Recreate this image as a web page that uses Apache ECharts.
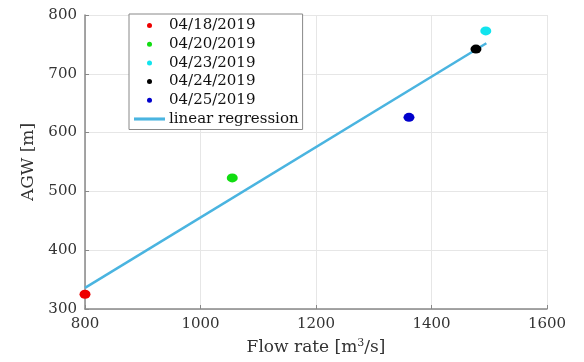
<!DOCTYPE html>
<html><head><meta charset="utf-8">
<script src="https://cdn.jsdelivr.net/npm/echarts@6/dist/echarts.min.js"></script>
<style>html,body{margin:0;padding:0;background:#fff}#c{width:584px;height:362px}</style>
</head><body><div id="c"></div>
<script>
const dates = ['04/18/2019','04/20/2019','04/23/2019','04/24/2019','04/25/2019'];
const flowRate = [800, 1055, 1494, 1477, 1361];
const agw = [325, 523, 773, 742, 626];
const dotColors = ['#ee0000','#11dd11','#11e4ee','#000000','#0000cc'];
const regressionX = [800, 1495];
const regressionY = [336, 752];
const xTicks = [800, 1000, 1200, 1400, 1600];
const yTicks = [300, 400, 500, 600, 700, 800];

const FONT = 'DejaVu Serif';
const LINE_COLOR = '#4ab4e0';
const series = dates.map((d, i) => ({
  name: d, type: 'scatter', symbol: 'circle', symbolSize: [11, 9],
  itemStyle: {color: dotColors[i], opacity: 1},
  data: [[flowRate[i], agw[i]]], z: 3
}));
series.push({
  name: 'linear regression', type: 'line', symbol: 'none', showSymbol: false,
  lineStyle: {color: LINE_COLOR, width: 2.5}, itemStyle: {color: LINE_COLOR},
  data: regressionX.map((x, i) => [x, regressionY[i]]), z: 2
});

const chart = echarts.init(document.getElementById('c'));
chart.setOption({
  animation: false,
  grid: {left: 85, right: 37, top: 15, bottom: 53},
  xAxis: {
    type: 'value', min: xTicks[0], max: xTicks[xTicks.length-1], interval: 200,
    name: 'Flow rate [m{sup|3}/s]', nameLocation: 'middle', nameGap: 29,
    nameTextStyle: {fontFamily: FONT, fontSize: 17, color: '#333',
      rich: {sup: {fontFamily: FONT, fontSize: 11, color: '#333', verticalAlign: 'top', padding: [0,0,8,0]}}},
    axisLine: {show: true, lineStyle: {color: '#888', width: 1.5}},
    axisTick: {show: true, inside: true, length: 4, lineStyle: {color: '#888'}},
    axisLabel: {fontFamily: FONT, fontSize: 15, color: '#333', margin: 8, formatter: v => String(v)},
    splitLine: {show: true, lineStyle: {color: '#e6e6e6', width: 1}}
  },
  yAxis: {
    type: 'value', min: yTicks[0], max: yTicks[yTicks.length-1], interval: 100,
    name: 'AGW [m]', nameLocation: 'middle', nameGap: 42, nameRotate: 90,
    nameTextStyle: {fontFamily: FONT, fontSize: 17, color: '#333'},
    axisLine: {show: true, lineStyle: {color: '#888', width: 1.5}},
    axisTick: {show: true, inside: true, length: 4, lineStyle: {color: '#888'}},
    axisLabel: {fontFamily: FONT, fontSize: 15, color: '#333', margin: 8, formatter: v => String(v)},
    splitLine: {show: true, lineStyle: {color: '#e6e6e6', width: 1}}
  },
  legend: {
    orient: 'vertical', left: 129, top: 14, padding: [4, 4, 3, 5],
    itemWidth: 31, itemHeight: 5, itemGap: 3.7,
    borderColor: '#888', borderWidth: 1, backgroundColor: '#fff',
    textStyle: {fontFamily: FONT, fontSize: 15, color: '#111', padding: [0,0,0,-1]},
    data: dates.map(d => ({name: d, icon: 'circle'})).concat([{
      name: 'linear regression', icon: 'path://M0,0H30V3H0Z', itemStyle: {color: LINE_COLOR}
    }])
  },
  series: series
});
</script></body></html>
